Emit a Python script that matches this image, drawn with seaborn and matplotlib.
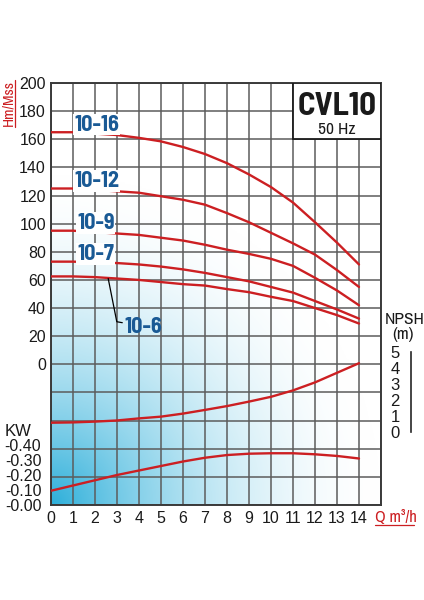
import numpy as np
import pandas as pd
import seaborn as sns
import matplotlib.pyplot as plt
from matplotlib import font_manager
from matplotlib.patches import Rectangle
from matplotlib.lines import Line2D

# pump curves (Q in m3/h)
flow = list(range(15))
head_10_16 = [165, 165, 164, 163, 161, 158.5, 154.5, 149.5, 143, 135, 126, 115, 101, 86.5, 71]
head_10_12 = [125, 125, 124, 123, 122, 119.5, 117, 113.5, 107.5, 101, 93.5, 86, 78, 67, 55]
head_10_9 = [95, 95, 94, 93, 92, 90, 88, 85, 81.5, 78.5, 75, 70, 61.5, 52.5, 42]
head_10_7 = [73, 73, 72.5, 72, 71, 69.5, 67.5, 65, 62, 59, 55, 51, 45, 39, 32.5]
head_10_6 = [62.5, 62.5, 62, 61, 60, 58.5, 57, 56, 53.5, 51.3, 48, 45, 40, 35, 29]
npsh_m = [0.58, 0.6, 0.65, 0.72, 0.85, 0.96, 1.15, 1.38, 1.62, 1.9, 2.2, 2.6, 3.1, 3.7, 4.3]
power_kw = [0.095, 0.13, 0.165, 0.2, 0.23, 0.26, 0.29, 0.315, 0.333, 0.342, 0.345, 0.345, 0.338, 0.327, 0.31]

model_names = ["10-16", "10-12", "10-9", "10-7", "10-6"]
kw_ticks = [0.0, 0.1, 0.2, 0.3, 0.4]
npsh_ticks = [0, 1, 2, 3, 4, 5]

df = pd.DataFrame({"Q": flow * 5,
                   "H": head_10_16 + head_10_12 + head_10_9 + head_10_7 + head_10_6,
                   "model": np.repeat(model_names, len(flow))})

sns.set_style("white")
plt.rcParams["font.family"] = ["Liberation Sans", "DejaVu Sans"]


def wt(f):
    w = f.weight
    if isinstance(w, str):
        return 700 if "bold" in w.lower() or "black" in w.lower() else 400
    return int(w)


# condensed faces: one for regular text, one that has a real bold
fonts = font_manager.fontManager.ttflist
names = {f.name for f in fonts}
narrow = dict(family=["Archivo Narrow", "DejaVu Sans"]) if "Archivo Narrow" in names \
    else dict(family=["DejaVu Sans"], fontstretch="condensed")
narrow_bold = dict(family=["DejaVu Sans"], fontstretch="condensed")
for cand in ["Archivo Narrow", "Barlow Semi Condensed", "Asap Condensed",
             "Cabin Condensed", "Barlow Condensed"]:
    if any(f.name == cand and wt(f) >= 700 for f in fonts):
        narrow_bold = dict(family=[cand, "DejaVu Sans"])
        break

RED = "#cc1f22"
BLUE = "#1a5a95"
GRID = "#5c5c5c"
INK = "#1a1a1a"

fig = plt.figure(figsize=(4.24, 6.0), dpi=100)
ax = fig.add_axes([51 / 424, 95 / 600, 330 / 424, 422 / 600])
ax.set_xlim(0, 15)
ax.set_ylim(-100, 200)

# blue corner gradient behind the grid
xp, yp = np.meshgrid(np.linspace(0, 1, 300), np.linspace(0, 1, 300))
d = np.sqrt((xp * 330 / 330) ** 2 + (yp * 422 / 330) ** 2)
t = np.clip(1 - d, 0, 1) ** 1.8
blue = np.array([45, 175, 218]) / 255
img = (1 - t[..., None]) * 1 + t[..., None] * blue
ax.imshow(img, extent=(0, 15, -100, 200), origin="lower", aspect="auto", zorder=0)

ax.set_axisbelow(True)
ax.set_xticks(range(16))
ax.set_xticklabels([str(v) for v in flow] + [""])
ax.set_yticks(range(-100, 201, 20))
ax.set_yticklabels(["" if v < 0 else str(v) for v in range(-100, 201, 20)])
ax.grid(True, color=GRID, lw=1.1)
ax.tick_params(length=0, labelsize=11.5, colors=INK)
ax.tick_params(axis="x", pad=4.5)
ax.tick_params(axis="y", pad=3.6)
for s in ax.spines.values():
    s.set_color("#3a3a3a")
    s.set_linewidth(1.4)

sns.lineplot(data=df, x="Q", y="H", units="model", estimator=None, color=RED,
             lw=1.7, ax=ax, zorder=3)
ax.set_xlabel("")
ax.set_ylabel("")

# model labels
lab_kw = dict(color=BLUE, fontsize=16, fontweight="bold", ha="left",
              va="baseline", zorder=4,
              bbox=dict(facecolor="white", edgecolor="none", pad=0.5), **narrow_bold)
ax.text(1.05, 166, model_names[0], **lab_kw)
ax.text(1.05, 126, model_names[1], **lab_kw)
ax.text(1.18, 96.2, model_names[2], **lab_kw)
ax.text(1.18, 74.1, model_names[3], **lab_kw)
lab_kw["bbox"] = None
ax.text(3.36, 22.3, model_names[4], **lab_kw)
ax.plot([2.6, 2.99, 3.24], [61, 30.3, 29.6], color="black", lw=0.9, zorder=3)

# title box
ax.add_patch(Rectangle((11, 160), 4, 40, facecolor="white", edgecolor=INK,
                       lw=1.3, zorder=4))
ax.text(13, 177.2, "CVL10", ha="center", va="baseline", fontsize=23.5,
        fontweight="bold", color=INK, zorder=5, **narrow_bold)
ax.text(13, 163.7, "50 Hz", ha="center", va="baseline", fontsize=12.5,
        color=INK, zorder=5, **narrow)

# NPSH curve on its own scale
ax_np = ax.twinx()
ax_np.set_ylim((432 - 505) / 16, (432 - 83) / 16)
sns.lineplot(x=flow, y=npsh_m, color=RED, lw=1.7, ax=ax_np)
ax_np.set_axis_off()

# power curve on its own scale
ax_kw = ax.twinx()
ax_kw.set_ylim(0, 422 / 150)
sns.lineplot(x=flow, y=power_kw, color=RED, lw=1.7, ax=ax_kw)
ax_kw.set_ylabel("")
ax_kw.yaxis.set_ticks_position("left")
ax_kw.set_yticks(kw_ticks)
ax_kw.set_yticklabels([f"-{v:.2f}" for v in kw_ticks])
ax_kw.tick_params(length=0, labelsize=11.5, pad=7, colors=INK)
for s in ax_kw.spines.values():
    s.set_visible(False)
ax_kw.grid(False)

# NPSH bracket scale at the right
ax_sc = fig.add_axes([411 / 424, 168 / 600, 0.0001, 80 / 600])
ax_sc.set_ylim(0, 5)
ax_sc.set_xticks([])
ax_sc.set_yticks(npsh_ticks)
ax_sc.tick_params(axis="y", length=5, width=1.2, pad=3, labelsize=12, colors=INK)
for k, s in ax_sc.spines.items():
    s.set_visible(k == "left")
ax_sc.spines["left"].set_linewidth(1.2)
ax_sc.patch.set_visible(False)

fig.text(405 / 424, 1 - 319 / 600, "NPSH", ha="center", va="center", fontsize=12.5,
         color=INK, **narrow)
fig.text(403 / 424, 1 - 335 / 600, "(m)", ha="center", va="center", fontsize=12.5,
         color=INK, **narrow)
fig.text(5 / 424, 1 - 436 / 600, "KW", ha="left", va="baseline", fontsize=12,
         color=INK)

# axis titles (red, underlined)
fig.text(8 / 424, 1 - 103 / 600, "Hm/Mss", rotation=90, ha="center", va="center",
         fontsize=11, color=RED, **narrow)
fig.add_artist(Line2D([14.5 / 424, 14.5 / 424], [1 - 80 / 600, 1 - 127 / 600],
                      color=RED, lw=0.9, transform=fig.transFigure))
fig.text(375 / 424, 1 - 522 / 600, "Q m³/h", ha="left", va="baseline",
         fontsize=12, color=RED, **narrow)
fig.add_artist(Line2D([375 / 424, 414 / 424], [1 - 525 / 600, 1 - 525 / 600],
                      color=RED, lw=0.9, transform=fig.transFigure))

fig.savefig("out.png", dpi=100)
